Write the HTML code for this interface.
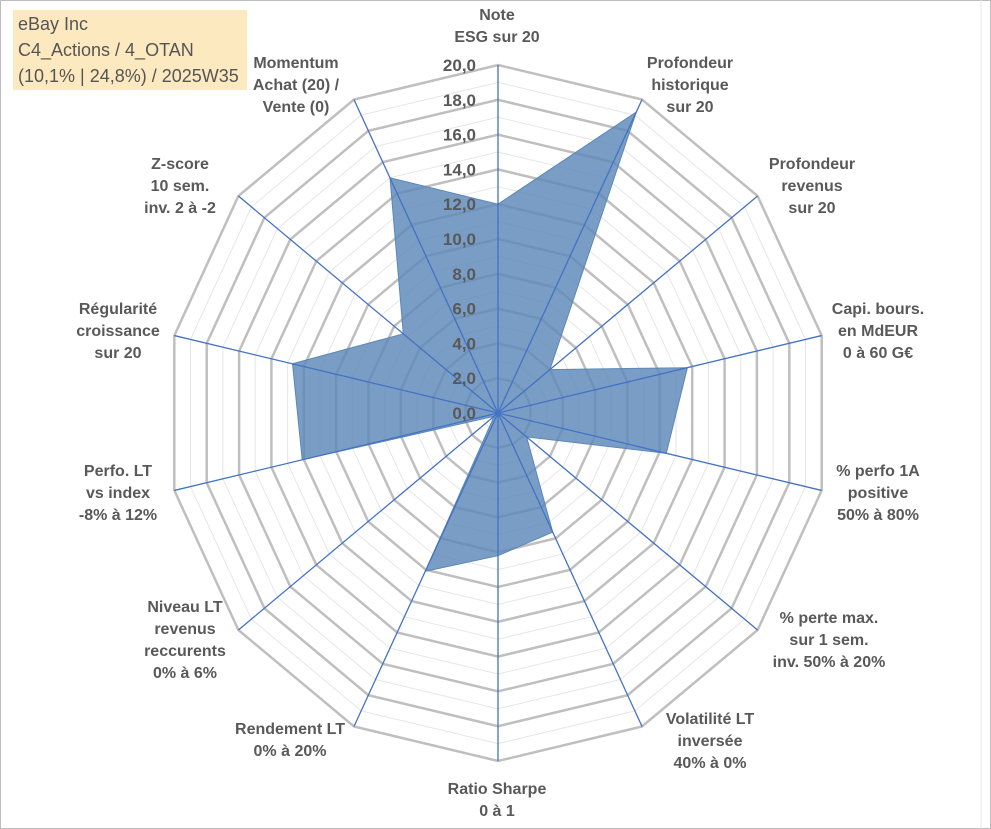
<!DOCTYPE html>
<html><head><meta charset="utf-8"><style>
html,body{margin:0;padding:0;background:#fff;}
#wrap{position:relative;width:991px;height:829px;overflow:hidden;background:#fff;font-family:"Liberation Sans",Arial,sans-serif;}
#frame{position:absolute;left:0;top:0;width:989px;height:827px;border:1px solid #bdbdbd;}
#title{position:absolute;left:13px;top:10px;width:234px;height:80px;background:#fde9bf;color:#555;font-family:"Liberation Sans",sans-serif;font-size:18px;line-height:26px;padding:1px 0 0 5px;box-sizing:border-box;}
</style></head><body>
<div id="wrap">
<div id="frame"></div>
<svg id="chart" width="991" height="829" style="position:absolute;left:0;top:0"></svg>
<div id="title">eBay Inc<br>C4_Actions / 4_OTAN<br>(10,1% | 24,8%) / 2025W35</div>
</div>
<script>
const categories = [
 ["Note","ESG sur 20"],
 ["Profondeur","historique","sur 20"],
 ["Profondeur","revenus","sur 20"],
 ["Capi. bours.","en MdEUR","0 à 60 G€"],
 ["% perfo 1A","positive","50% à 80%"],
 ["% perte max.","sur 1 sem.","inv. 50% à 20%"],
 ["Volatilité LT","inversée","40% à 0%"],
 ["Ratio Sharpe","0 à 1"],
 ["Rendement LT","0% à 20%"],
 ["Niveau LT","revenus","reccurents","0% à 6%"],
 ["Perfo. LT","vs index","-8% à 12%"],
 ["Régularité","croissance","sur 20"],
 ["Z-score","10 sem.","inv. 2 à -2"],
 ["Momentum","Achat (20) /","Vente (0)"]
];
const values = [12.0, 19.2, 4.0, 11.7, 10.4, 2.2, 7.6, 8.2, 10.1, 0.3, 12.1, 12.7, 7.3, 15.0];
const tickLabels = ["0,0","2,0","4,0","6,0","8,0","10,0","12,0","14,0","16,0","18,0","20,0"];
const tickValues = [0,2,4,6,8,10,12,14,16,18,20];
// label anchor positions (layout, not data)
const labelPos = [[497,20],[690,68],[812,169],[878,314],[878,476],[829,623],[710,724],[497,794],[290,734],[185,612],[118,476],[118,314],[180,169],[296,68]];

const svg = document.getElementById('chart');
const NS = "http://www.w3.org/2000/svg";
const cx = 498, cy = 413, RX = 332, RY = 348, maxV = 20;
const N = categories.length;
function ang(i){ return i*2*Math.PI/N; }
function px(i,v){ return cx + Math.sin(ang(i))*v/maxV*RX; }
function py(i,v){ return cy - Math.cos(ang(i))*v/maxV*RY; }
function mk(tag, attrs){ const e=document.createElementNS(NS,tag); for(const k in attrs) e.setAttribute(k,attrs[k]); svg.appendChild(e); return e; }
function ringPts(v){ let s=[]; for(let i=0;i<N;i++) s.push(px(i,v).toFixed(1)+","+py(i,v).toFixed(1)); return s.join(" "); }

for(let v=1; v<maxV; v+=2){
  const p = mk('polygon',{points:ringPts(v),fill:'none',stroke:'#e6e6e6','stroke-width':1});
  
  
}
tickValues.forEach(v=>{
  if(v===0) return;
  const p = mk('polygon',{points:ringPts(v),fill:'none',stroke:'#bfbfbf','stroke-width':2.5});
  
  
});
let sp=[]; values.forEach((v,i)=>sp.push(px(i,v).toFixed(1)+","+py(i,v).toFixed(1)));
const area = mk('polygon',{points:sp.join(" "),fill:'#5b88b8','fill-opacity':0.82,stroke:'#5b88b8','stroke-width':1});


for(let i=0;i<N;i++){
  const l = mk('line',{x1:cx,y1:cy,x2:px(i,maxV),y2:py(i,maxV),stroke:'#4472c4','stroke-width':1.3});
  
  
}
tickValues.forEach((v,k)=>{
  const t = mk('text',{x:cx-22,y:py(0,v)+6,'text-anchor':'end','font-size':17,'font-weight':'bold',fill:'#595959','font-family':'Liberation Sans, sans-serif'});
  t.textContent = tickLabels[k];
  
  
});
categories.forEach((lines,i)=>{
  const x = labelPos[i][0], y0 = labelPos[i][1], lh = 22;
  const t = mk('text',{'text-anchor':'middle','font-size':16,'font-weight':'bold',fill:'#595959','font-family':'Liberation Sans, sans-serif'});
  
  
  lines.forEach((ln,j)=>{
    const ts=document.createElementNS(NS,'tspan');
    ts.setAttribute('x',x); ts.setAttribute('y',y0+j*lh);
    ts.textContent=ln; t.appendChild(ts);
  });
});
const edge = mk('line',{x1:981,y1:0,x2:981,y2:829,stroke:'#e8e8e8','stroke-width':1});


</script>
</body></html>
